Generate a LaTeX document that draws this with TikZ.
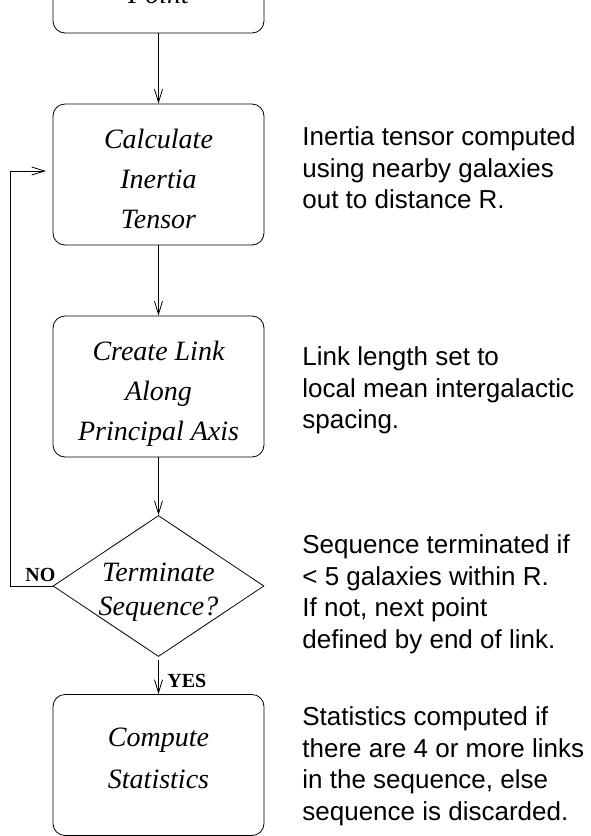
\documentclass[tikz,border=0pt]{standalone}
\usepackage{fontspec}
\setmainfont{Liberation Serif}
\newfontfamily\sansf{Liberation Sans}
\usetikzlibrary{arrows.meta,shapes.geometric}
\begin{document}
\begin{tikzpicture}[x=1pt,y=-1pt,
  line width=0.8pt,
  box/.style={draw, rounded corners=12pt, minimum width=211pt, minimum height=141pt, inner sep=0pt},
  dia/.style={draw, diamond, minimum width=211pt, minimum height=141pt, inner sep=0pt},
  boxtext/.style={anchor=north, align=center, inner sep=0pt, font=\itshape\fontsize{28}{40}\selectfont},
  note/.style={anchor=north west, align=left, inner sep=0pt, font=\sansf\fontsize{26}{31.6}\selectfont},
  lab/.style={anchor=base west, inner sep=0pt, font=\bfseries\fontsize{20}{24}\selectfont},
  arr/.style={-{Straight Barb[length=13pt,width=8pt]}},
]
\useasboundingbox (0,0) rectangle (591,836);

% boxes
\node[box] (b1) at (158.5,-37.5) {};
\node[box] (b2) at (158.5,174.5) {};
\node[box] (b3) at (158.5,386.5) {};
\node[dia] (d)  at (158.5,586) {};
\node[box] (b5) at (158.5,765) {};

% box texts
\node[inner sep=0pt, anchor=base, font=\itshape\fontsize{28}{40}\selectfont] (t1) at (158.5,3) {Point};
\node[boxtext] (t2) at (158.5,124) {\rule{0pt}{24pt}Calculate\\Inertia\\Tensor};
\node[boxtext] (t3) at (158.5,336) {\rule{0pt}{24pt}Create Link\\Along\\Principal Axis};
\node[boxtext, font=\itshape\fontsize{28}{34}\selectfont] (td) at (158.5,557) {\rule{0pt}{24pt}Terminate\\Sequence?};
\node[boxtext, font=\itshape\fontsize{28}{42}\selectfont] (t5) at (158.5,722) {\rule{0pt}{24pt}Compute\\Statistics};

% notes
\node[note] (n2) at (302,125) {\rule{0pt}{20pt}Inertia tensor computed\\using nearby galaxies\\out to distance R.};
\node[note] (n3) at (302,345) {\rule{0pt}{20pt}Link length set to\\local mean intergalactic\\spacing.};
\node[note] (nd) at (302,533) {\rule{0pt}{20pt}Sequence terminated if\\< 5 galaxies within R.\\If not, next point\\defined by end of link.};
\node[note] (n5) at (302,705) {\rule{0pt}{20pt}Statistics computed if\\there are 4 or more links\\in the sequence, else\\sequence is discarded.};

% connectors
\draw[arr] (b1.south) -- (b2.north);
\draw[arr] (b2.south) -- (b3.north);
\draw[arr] (b3.south) -- (d.north);
\coordinate (ys) at (158.5,660);
\draw[arr] (ys) -- (b5.north);
\coordinate (nl) at (10,586);
\coordinate (nt) at (10,171);
\coordinate (ne) at (46,171);
\draw[arr] (d.west) -- (nl) -- (nt) -- (ne);

% labels
\node[lab] (no) at (25,581) {NO};
\node[lab] (yes) at (167,687) {YES};
\end{tikzpicture}
\end{document}
